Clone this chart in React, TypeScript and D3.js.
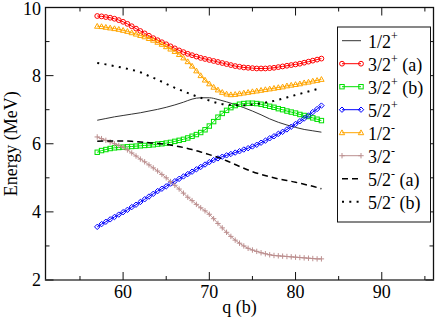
import React from 'react';
import * as d3 from 'd3';

// q grid (b) for the marker series and for the plain line series
const qFine = [
  57, 57.5, 58, 58.5, 59, 59.5, 60, 60.5, 61, 61.5, 62, 62.5, 63, 63.5, 64, 64.5, 65, 65.5,
  66, 66.5, 67, 67.5, 68, 68.5, 69, 69.5, 70, 70.5, 71, 71.5, 72, 72.5, 73, 73.5, 74, 74.5,
  75, 75.5, 76, 76.5, 77, 77.5, 78, 78.5, 79, 79.5, 80, 80.5, 81, 81.5, 82, 82.5, 83
];
const qCoarse = [
  57, 58, 59, 60, 61, 62, 63, 64, 65, 66, 67, 68, 69, 70, 71, 72, 73, 74, 75, 76, 77, 78, 79,
  80, 81, 82, 83
];

// energies (MeV)
const e12p = [
  6.69, 6.74, 6.79, 6.83, 6.87, 6.91, 6.96, 7.01, 7.07, 7.14, 7.22, 7.31, 7.35, 7.35, 7.30,
  7.23, 7.15, 7.06, 6.96, 6.85, 6.73, 6.63, 6.55, 6.48, 6.42, 6.38, 6.34
];
const e32pa = [
  9.75, 9.74, 9.72, 9.70, 9.67, 9.63, 9.58, 9.52, 9.45, 9.38, 9.31, 9.24, 9.17, 9.10, 9.04,
  8.98, 8.92, 8.86, 8.80, 8.74, 8.69, 8.64, 8.60, 8.56, 8.52, 8.49, 8.46, 8.43, 8.40, 8.37,
  8.34, 8.31, 8.28, 8.26, 8.24, 8.23, 8.22, 8.21, 8.21, 8.21, 8.22, 8.23, 8.25, 8.27, 8.29,
  8.31, 8.33, 8.35, 8.38, 8.41, 8.44, 8.47, 8.50
];
const e32pb = [
  5.75, 5.80, 5.83, 5.86, 5.88, 5.89, 5.90, 5.91, 5.92, 5.93, 5.94, 5.95, 5.96, 5.97, 5.99,
  6.00, 6.02, 6.04, 6.07, 6.10, 6.13, 6.17, 6.22, 6.27, 6.33, 6.41, 6.52, 6.65, 6.78, 6.89,
  6.98, 7.06, 7.12, 7.16, 7.18, 7.19, 7.19, 7.18, 7.16, 7.13, 7.10, 7.07, 7.03, 7.00, 6.96,
  6.93, 6.90, 6.86, 6.83, 6.80, 6.76, 6.72, 6.68
];
const e52p = [
  3.56, 3.64, 3.71, 3.78, 3.85, 3.92, 3.99, 4.06, 4.14, 4.21, 4.29, 4.37, 4.45, 4.53, 4.61,
  4.68, 4.75, 4.83, 4.90, 4.97, 5.04, 5.11, 5.18, 5.25, 5.32, 5.39, 5.46, 5.52, 5.57, 5.62,
  5.66, 5.70, 5.74, 5.78, 5.83, 5.87, 5.92, 5.97, 6.03, 6.09, 6.16, 6.22, 6.29, 6.35, 6.42,
  6.50, 6.58, 6.66, 6.74, 6.83, 6.93, 7.02, 7.12
];
const e12m = [
  9.45, 9.44, 9.42, 9.40, 9.38, 9.36, 9.33, 9.30, 9.26, 9.22, 9.18, 9.14, 9.09, 9.04, 8.98,
  8.92, 8.85, 8.78, 8.71, 8.62, 8.52, 8.41, 8.28, 8.14, 8.00, 7.87, 7.76, 7.66, 7.58, 7.51,
  7.46, 7.44, 7.45, 7.47, 7.49, 7.51, 7.53, 7.55, 7.57, 7.59, 7.61, 7.63, 7.65, 7.67, 7.70,
  7.72, 7.74, 7.76, 7.79, 7.81, 7.84, 7.86, 7.89
];
const e32m = [
  6.20, 6.15, 6.10, 6.05, 6.00, 5.95, 5.90, 5.82, 5.73, 5.64, 5.55, 5.47, 5.38, 5.29, 5.20,
  5.10, 5.00, 4.89, 4.78, 4.67, 4.55, 4.43, 4.33, 4.22, 4.12, 4.03, 3.93, 3.80, 3.66, 3.53,
  3.40, 3.28, 3.17, 3.08, 3.00, 2.93, 2.88, 2.84, 2.80, 2.77, 2.74, 2.72, 2.71, 2.70, 2.69,
  2.68, 2.67, 2.66, 2.65, 2.64, 2.63, 2.62, 2.62
];
const e52ma = [
  6.07, 6.08, 6.08, 6.08, 6.07, 6.05, 6.03, 6.01, 5.98, 5.94, 5.89, 5.83, 5.76, 5.68, 5.60,
  5.50, 5.39, 5.28, 5.18, 5.10, 5.03, 4.97, 4.92, 4.87, 4.81, 4.75, 4.68
];
const e52mb = [
  8.37, 8.33, 8.28, 8.23, 8.17, 8.10, 7.99, 7.88, 7.76, 7.64, 7.54, 7.44, 7.35, 7.27, 7.19,
  7.15, 7.13, 7.13, 7.15, 7.19, 7.23, 7.29, 7.36, 7.43, 7.50, 7.57, 7.64
];

const xTicks = [60, 70, 80, 90];
const xMinor = [55, 65, 75, 85, 95];
const yTicks = [2, 4, 6, 8, 10];
const yMinor = [3, 5, 7, 9];

type Marker = 'none' | 'circle' | 'square' | 'diamond' | 'triangle' | 'plus';
type Series = {
  name: string; sup: string; tail: string; q: number[]; e: number[];
  color: string; marker: Marker; dash?: string; width: number;
};

const series: Series[] = [
  { name: '1/2', sup: '+', tail: '', q: qCoarse, e: e12p, color: '#333', marker: 'none', width: 1 },
  { name: '3/2', sup: '+', tail: ' (a)', q: qFine, e: e32pa, color: '#ff0000', marker: 'circle', width: 1 },
  { name: '3/2', sup: '+', tail: ' (b)', q: qFine, e: e32pb, color: '#00e000', marker: 'square', width: 1 },
  { name: '5/2', sup: '+', tail: '', q: qFine, e: e52p, color: '#0000ff', marker: 'diamond', width: 1 },
  { name: '1/2', sup: '-', tail: '', q: qFine, e: e12m, color: '#ffa500', marker: 'triangle', width: 1 },
  { name: '3/2', sup: '-', tail: '', q: qFine, e: e32m, color: '#bc8f8f', marker: 'plus', width: 1 },
  { name: '5/2', sup: '-', tail: ' (a)', q: qCoarse, e: e52ma, color: '#000', marker: 'none', dash: '6 4', width: 1.5 },
  { name: '5/2', sup: '-', tail: ' (b)', q: qCoarse, e: e52mb, color: '#000', marker: 'none', dash: '2 5.3', width: 2 },
];

const font = '"Liberation Serif", "DejaVu Serif", serif';

function MarkerShape({ kind, cx, cy, color }: { kind: Marker; cx: number; cy: number; color: string }) {
  const common = { fill: 'none', stroke: color, strokeWidth: 1 };
  if (kind === 'circle') return <circle cx={cx} cy={cy} r={2.4} {...common} />;
  if (kind === 'square') return <rect x={cx - 2.2} y={cy - 2.2} width={4.4} height={4.4} {...common} />;
  if (kind === 'diamond')
    return <path d={`M${cx},${cy - 2.7}L${cx + 2.7},${cy}L${cx},${cy + 2.7}L${cx - 2.7},${cy}Z`} {...common} />;
  if (kind === 'triangle')
    return <path d={`M${cx},${cy - 2.8}L${cx + 2.7},${cy + 2}L${cx - 2.7},${cy + 2}Z`} {...common} />;
  if (kind === 'plus')
    return <path d={`M${cx - 2.7},${cy}H${cx + 2.7}M${cx},${cy - 2.7}V${cy + 2.7}`} {...common} />;
  return null;
}

export default function App() {
  const width = 436;
  const height = 320;
  const x = d3.scaleLinear().domain([51, 96]).range([45.5, 433.5]);
  const y = d3.scaleLinear().domain([2, 10]).range([280, 7.5]);
  const [x0, x1] = x.range();
  const [y0, y1] = y.range();

  const line = d3.line<[number, number]>()
    .x(d => x(d[0]))
    .y(d => y(d[1]))
    .curve(d3.curveMonotoneX);

  const legX = 337.5;
  const legY = 27;

  return (
    <div style={{ position: 'fixed', left: 0, top: 0 }}>
      <svg width={width} height={height} style={{ display: 'block', background: '#fff' }}>
        {/* series */}
        {series.map((s, i) => {
          const pts = s.q.map((q, j) => [q, s.e[j]] as [number, number]);
          return (
            <g key={i}>
              <path d={line(pts) || ''} fill="none" stroke={s.color} strokeWidth={s.width}
                strokeDasharray={s.dash} />
              {s.marker !== 'none' && pts.map((p, j) => (
                <MarkerShape key={j} kind={s.marker} cx={x(p[0])} cy={y(p[1])} color={s.color} />
              ))}
            </g>
          );
        })}

        {/* frame and ticks */}
        <rect x={x0} y={y1} width={x1 - x0} height={y0 - y1} fill="none" stroke="#111" strokeWidth={1.3} />
        <line x1={x0} x2={x1} y1={y0} y2={y0} stroke="#777" strokeWidth={1.6} />
        {xTicks.map(t => (
          <g key={'xt' + t}>
            <line x1={x(t)} x2={x(t)} y1={y0} y2={y0 - 8} stroke="#111" />
            <line x1={x(t)} x2={x(t)} y1={y1} y2={y1 + 8} stroke="#111" />
            <text x={x(t)} y={298} textAnchor="middle" fontFamily={font} fontSize={18} fill="#000">{t}</text>
          </g>
        ))}
        {xMinor.map(t => (
          <g key={'xm' + t}>
            <line x1={x(t)} x2={x(t)} y1={y0} y2={y0 - 4} stroke="#111" />
            <line x1={x(t)} x2={x(t)} y1={y1} y2={y1 + 4} stroke="#111" />
          </g>
        ))}
        {yTicks.map(t => (
          <g key={'yt' + t}>
            <line x1={x0} x2={x0 + 8} y1={y(t)} y2={y(t)} stroke="#111" />
            <line x1={x1} x2={x1 - 8} y1={y(t)} y2={y(t)} stroke="#111" />
            <text x={41} y={Math.max(y(t) + 6, 14.5)} textAnchor="end" fontFamily={font} fontSize={18}
              fill="#000">{t}</text>
          </g>
        ))}
        {yMinor.map(t => (
          <g key={'ym' + t}>
            <line x1={x0} x2={x0 + 4} y1={y(t)} y2={y(t)} stroke="#111" />
            <line x1={x1} x2={x1 - 4} y1={y(t)} y2={y(t)} stroke="#111" />
          </g>
        ))}

        {/* axis titles */}
        <text x={(x0 + x1) / 2} y={313} textAnchor="middle" fontFamily={font} fontSize={18} fill="#000">q (b)</text>
        <text transform={`translate(17,${(y0 + y1) / 2}) rotate(-90)`} textAnchor="middle"
          fontFamily={font} fontSize={18} fill="#000">Energy (MeV)</text>

        {/* legend */}
        <rect x={legX} y={legY} width={93} height={195} fill="#fff" stroke="#111" strokeWidth={1} />
        {series.map((s, i) => {
          const sy = 40.7 + i * 23;
          return (
            <g key={'lg' + i}>
              <line x1={342} x2={361} y1={sy} y2={sy} stroke={s.color} strokeWidth={s.width}
                strokeDasharray={s.dash} />
              {s.marker !== 'none' && (
                <>
                  <MarkerShape kind={s.marker} cx={342} cy={sy} color={s.color} />
                  <MarkerShape kind={s.marker} cx={361} cy={sy} color={s.color} />
                </>
              )}
              <text x={368} y={sy + 7} fontFamily={font} fontSize={18} fill="#000">
                {s.name}
                <tspan fontSize={12} dy={-8}>{s.sup}</tspan>
                <tspan dy={8}>{s.tail}</tspan>
              </text>
            </g>
          );
        })}
      </svg>
    </div>
  );
}
